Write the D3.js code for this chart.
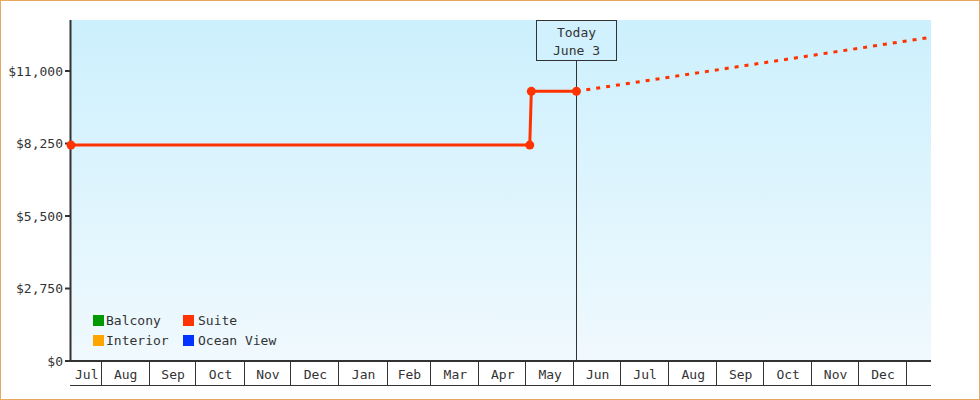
<!DOCTYPE html>
<html>
<head>
<meta charset="utf-8">
<script src="https://cdn.jsdelivr.net/npm/d3@7"></script>
<style>
  html, body { margin: 0; padding: 0; background: #fff; }
  svg { display: block; }
  text { font-family: "DejaVu Sans Mono", monospace; font-size: 13px; fill: #333; }
</style>
</head>
<body>
<svg id="chart" width="980" height="400"></svg>
<script>
// ---- data ----
const domainStart = "2022-07-13";
const domainEnd = "2024-01-17";
const suiteDates = ["2022-07-13", "2023-05-04", "2023-05-05", "2023-06-03"];
const suiteValues = [8190, 8190, 10230, 10230];
const forecastDates = ["2023-06-03", "2024-01-17"];
const forecastValues = [10230, 12280];
const yMax = 12935;
const yTicks = [0, 2750, 5500, 8250, 11000];
const monthLabels = ["Jul","Aug","Sep","Oct","Nov","Dec","Jan","Feb","Mar","Apr","May","Jun","Jul","Aug","Sep","Oct","Nov","Dec",""];
const todayDate = "2023-06-03";
const todayLabel = ["Today", "June 3"];
const legendNames = ["Balcony", "Interior", "Suite", "Ocean View"];
const legendColors = ["#009900", "#ffa500", "#ff3300", "#0033ff"];

// ---- layout ----
const parse = d3.timeParse("%Y-%m-%d");
const L = 71, R = 931, T = 20, B = 361, AXB = 385;
const svg = d3.select("#chart");

const x = d3.scaleTime().domain([parse(domainStart), parse(domainEnd)]).range([L, R]);
const y = d3.scaleLinear().domain([0, yMax]).range([B, T]);

// border
svg.append("rect").attr("x", 0.5).attr("y", 0.5).attr("width", 979).attr("height", 399)
  .attr("fill", "#fff").attr("stroke", "#e8a860").attr("stroke-width", 1);

// gradient background
const defs = svg.append("defs");
const grad = defs.append("linearGradient").attr("id", "bg").attr("x1", 0).attr("y1", 0).attr("x2", 0).attr("y2", 1);
grad.append("stop").attr("offset", "0%").attr("stop-color", "#ccf0fd");
grad.append("stop").attr("offset", "100%").attr("stop-color", "#f0f9fe");
svg.append("rect").attr("x", L).attr("y", T).attr("width", R - L).attr("height", B - T).attr("fill", "url(#bg)");

// y axis
const yAxis = svg.append("g");
yAxis.append("line").attr("x1", L - 0.5).attr("x2", L - 0.5).attr("y1", T).attr("y2", B + 1)
  .attr("stroke", "#333").attr("stroke-width", 2);
const yt = yAxis.selectAll("g.tick").data(yTicks).enter().append("g").attr("class", "tick")
  .attr("transform", d => `translate(0,${y(d)})`);
yt.append("line").attr("x1", L - 6).attr("x2", L).attr("stroke", "#333").attr("stroke-width", 2);
yt.append("text").attr("x", L - 8).attr("dy", "0.35em").attr("text-anchor", "end")
  .text(d => "$" + d3.format(",")(d));

// x axis (month bands)
const xAxis = svg.append("g");
const months = d3.timeMonth.range(d3.timeMonth.floor(x.domain()[0]), x.domain()[1]);
const bands = months.map((m, i) => {
  const s = m < x.domain()[0] ? x.domain()[0] : m;
  const nx = d3.timeMonth.offset(m, 1);
  const e = nx > x.domain()[1] ? x.domain()[1] : nx;
  return { s, e, label: monthLabels[i] || "" };
});
xAxis.append("line").attr("x1", L - 1).attr("x2", R).attr("y1", B).attr("y2", B)
  .attr("stroke", "#333").attr("stroke-width", 2);
xAxis.append("line").attr("x1", L - 1).attr("x2", R).attr("y1", AXB + 0.5).attr("y2", AXB + 0.5)
  .attr("stroke", "#333").attr("stroke-width", 1);
xAxis.selectAll("line.sep").data(bands.slice(1)).enter().append("line").attr("class", "sep")
  .attr("x1", d => Math.round(x(d.s)) + 0.5).attr("x2", d => Math.round(x(d.s)) + 0.5)
  .attr("y1", B).attr("y2", AXB)
  .attr("stroke", "#333").attr("stroke-width", 1);
xAxis.selectAll("text").data(bands).enter().append("text")
  .attr("x", d => (x(d.s) + x(d.e)) / 2 + 1).attr("y", 379).attr("text-anchor", "middle")
  .text(d => d.label);

// today line and box
const tx = Math.round(x(parse(todayDate))) + 0.5;
svg.append("line").attr("x1", tx).attr("x2", tx).attr("y1", 61).attr("y2", B)
  .attr("stroke", "#333").attr("stroke-width", 1);
svg.append("rect").attr("x", tx - 40).attr("y", T + 0.5).attr("width", 80).attr("height", 40)
  .attr("fill", "#d0f1fd").attr("stroke", "#333").attr("stroke-width", 1);
svg.selectAll("text.today").data(todayLabel).enter().append("text").attr("class", "today")
  .attr("x", tx).attr("y", (d, i) => 37 + i * 18).attr("text-anchor", "middle").text(d => d);

// suite series
const suite = suiteDates.map((d, i) => ({ d: parse(d), v: suiteValues[i] }));
const forecast = forecastDates.map((d, i) => ({ d: parse(d), v: forecastValues[i] }));
const line = d3.line().x(p => x(p.d)).y(p => y(p.v));
svg.append("path").datum(forecast).attr("d", line).attr("fill", "none")
  .attr("stroke", "#ff3300").attr("stroke-width", 3).attr("stroke-dasharray", "4,6");
svg.append("path").datum(suite).attr("d", line).attr("fill", "none")
  .attr("stroke", "#ff3300").attr("stroke-width", 3);
svg.selectAll("circle.pt").data(suite).enter().append("circle").attr("class", "pt")
  .attr("cx", p => x(p.d)).attr("cy", p => y(p.v)).attr("r", 4.5).attr("fill", "#ff3300");

// legend
const lg = svg.append("g");
const items = lg.selectAll("g").data(legendNames).enter().append("g")
  .attr("transform", (d, i) => `translate(${93 + Math.floor(i / 2) * 90},${315 + (i % 2) * 20})`);
items.append("rect").attr("width", 11).attr("height", 11).attr("fill", (d, i) => legendColors[i]);
items.append("text").attr("x", (d, i) => i < 2 ? 13 : 15).attr("y", 10).text(d => d);
</script>
</body>
</html>
